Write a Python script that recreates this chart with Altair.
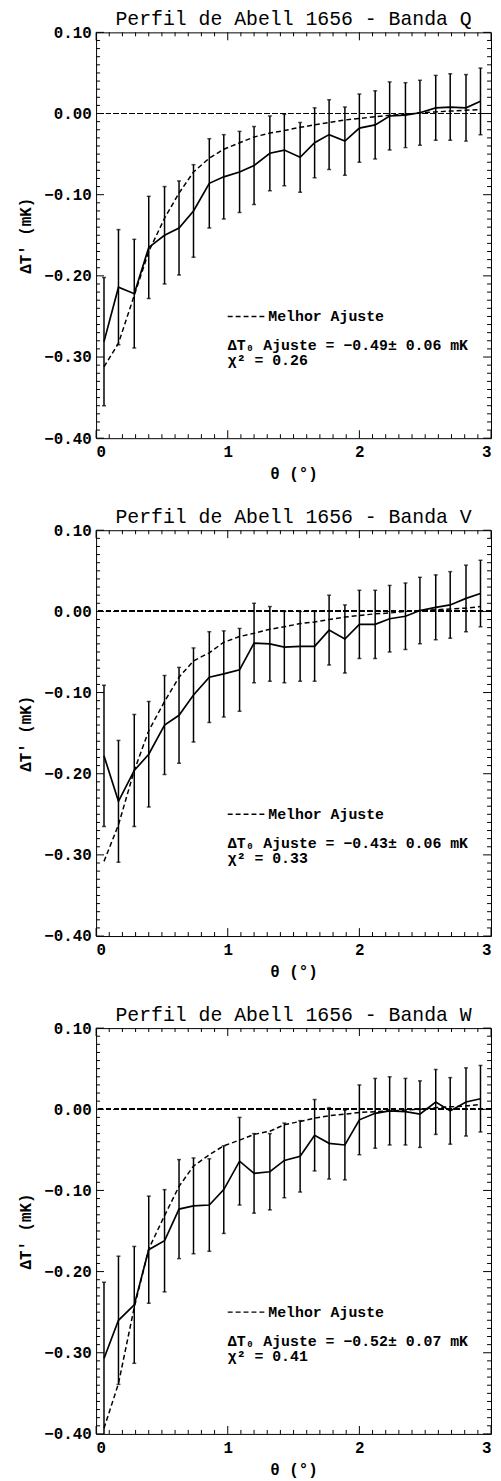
import altair as alt
import pandas as pd

# ---------------- data ----------------
theta = [0.06, 0.17, 0.29, 0.40, 0.52, 0.63, 0.74, 0.86, 0.97, 1.09, 1.20, 1.32, 1.43,
         1.55, 1.66, 1.77, 1.89, 2.00, 2.12, 2.23, 2.35, 2.46, 2.58, 2.69, 2.81, 2.92]

# Banda Q
dt_q = [-0.281, -0.214, -0.222, -0.165, -0.150, -0.141, -0.120, -0.086, -0.078, -0.072,
        -0.064, -0.049, -0.045, -0.054, -0.036, -0.026, -0.034, -0.018, -0.014, -0.003,
        -0.002, 0.001, 0.007, 0.008, 0.007, 0.015]
err_q = [0.079, 0.071, 0.067, 0.063, 0.060, 0.058, 0.057, 0.055, 0.052, 0.050, 0.048,
         0.046, 0.044, 0.043, 0.043, 0.043, 0.042, 0.042, 0.042, 0.042, 0.040, 0.040,
         0.040, 0.041, 0.041, 0.041]
fit_q = [-0.312, -0.283, -0.224, -0.170, -0.129, -0.098, -0.072, -0.055, -0.044, -0.036,
         -0.029, -0.024, -0.021, -0.017, -0.014, -0.011, -0.008, -0.006, -0.004, -0.002,
         -0.001, 0.001, 0.002, 0.003, 0.004, 0.005]

# Banda V
dt_v = [-0.178, -0.234, -0.196, -0.176, -0.140, -0.128, -0.103, -0.081, -0.077, -0.072,
        -0.039, -0.040, -0.044, -0.043, -0.043, -0.023, -0.034, -0.016, -0.016, -0.009,
        -0.006, 0.001, 0.005, 0.008, 0.016, 0.022]
err_v = [0.087, 0.075, 0.069, 0.065, 0.061, 0.059, 0.058, 0.056, 0.053, 0.051, 0.049,
         0.046, 0.044, 0.043, 0.043, 0.043, 0.042, 0.042, 0.042, 0.041, 0.041, 0.041,
         0.040, 0.041, 0.041, 0.041]
fit_v = [-0.308, -0.263, -0.196, -0.147, -0.111, -0.081, -0.061, -0.051, -0.038, -0.031,
         -0.027, -0.022, -0.019, -0.015, -0.013, -0.010, -0.007, -0.005, -0.003, -0.002,
         0.000, 0.001, 0.002, 0.003, 0.004, 0.006]

# Banda W
dt_w = [-0.307, -0.260, -0.241, -0.173, -0.162, -0.123, -0.119, -0.118, -0.099, -0.064,
        -0.079, -0.077, -0.063, -0.058, -0.032, -0.042, -0.044, -0.013, -0.005, -0.002,
        -0.003, -0.006, 0.009, -0.002, 0.009, 0.013]
err_w = [0.094, 0.079, 0.072, 0.066, 0.063, 0.061, 0.059, 0.057, 0.054, 0.054, 0.049,
         0.047, 0.046, 0.044, 0.044, 0.044, 0.043, 0.043, 0.043, 0.042, 0.041, 0.041,
         0.040, 0.041, 0.042, 0.041]
fit_w = [-0.393, -0.338, -0.244, -0.172, -0.131, -0.095, -0.070, -0.056, -0.045, -0.038,
         -0.031, -0.027, -0.019, -0.015, -0.011, -0.008, -0.006, -0.004, -0.003, -0.002,
         -0.001, 0.000, 0.002, 0.003, 0.004, 0.006]

titles = ["Perfil de Abell 1656 - Banda Q",
          "Perfil de Abell 1656 - Banda V",
          "Perfil de Abell 1656 - Banda W"]
fit_texts = ["ΔT₀ Ajuste = −0.49± 0.06 mK",
             "ΔT₀ Ajuste = −0.43± 0.06 mK",
             "ΔT₀ Ajuste = −0.52± 0.07 mK"]
chi_texts = ["χ² = 0.26", "χ² = 0.33", "χ² = 0.41"]
legend_label = ["Melhor Ajuste"]
x_title = "θ (°)"
y_title = "ΔT' (mK)"

x_major = [0, 1, 2, 3]
x_minor = [i / 10 for i in range(31) if i % 10 != 0]
y_major = [-0.4, -0.3, -0.2, -0.1, 0.0, 0.1]
y_minor = [round(-0.4 + i / 100, 2) for i in range(51) if i % 10 != 0]

# ---------------- styling ----------------
FONT = "Liberation Mono"
W, H = 399, 410
MAJ, MIN = 8, 4
INK = "black"

xs = alt.Scale(domain=[0, 3], nice=False, zero=False)
ys = alt.Scale(domain=[-0.4, 0.1], nice=False, zero=False)
XAX = alt.Axis(values=x_major, format="d", grid=False, ticks=False, domain=False,
               labelPadding=6, titlePadding=6)
YAX = alt.Axis(values=y_major, format=".2f", grid=False, ticks=False, domain=False,
               labelPadding=5, titlePadding=10)


def X(field):
    return alt.X(field, scale=xs, axis=XAX, title=x_title)


def Y(field):
    return alt.Y(field, scale=ys, axis=YAX, title=y_title)


def panel(title, dt, err, fit, fit_text, chi_text):
    df = pd.DataFrame({
        "theta": theta,
        "dt": dt,
        "lo": [a - b for a, b in zip(dt, err)],
        "hi": [a + b for a, b in zip(dt, err)],
        "fit": fit,
    })
    base = alt.Chart(df)

    main = base.mark_line(color=INK, strokeWidth=1.7).encode(x=X("theta:Q"), y=Y("dt:Q"))
    zero = base.mark_rule(color=INK, strokeWidth=1.2, strokeDash=[5, 3]).encode(
        y=alt.datum(0, scale=ys, axis=YAX, title=y_title))
    fitl = base.mark_line(color=INK, strokeWidth=1.5, strokeDash=[5, 3]).encode(
        x=X("theta:Q"), y=Y("fit:Q"))
    bars = base.mark_rule(color=INK, strokeWidth=1.5, clip=True).encode(
        x=X("theta:Q"), y=Y("lo:Q"), y2="hi:Q")
    cap_lo = base.mark_tick(color=INK, orient="horizontal", size=4, thickness=1.5,
                            clip=True).encode(x=X("theta:Q"), y=Y("lo:Q"))
    cap_hi = base.mark_tick(color=INK, orient="horizontal", size=4,
                            thickness=1.5).encode(x=X("theta:Q"), y=Y("hi:Q"))

    # inward ticks on all four sides
    xmaj = alt.Chart(pd.DataFrame({"v": x_major}))
    xmin = alt.Chart(pd.DataFrame({"v": x_minor}))
    ymaj = alt.Chart(pd.DataFrame({"v": y_major}))
    ymin = alt.Chart(pd.DataFrame({"v": y_minor}))
    tk = dict(color=INK, strokeWidth=1)
    ticks = []
    for src, ln in ((xmaj, MAJ), (xmin, MIN)):
        ticks.append(src.mark_rule(**tk).encode(
            x=X("v:Q"), y=alt.value(0), y2=alt.value(ln)))
        ticks.append(src.mark_rule(**tk).encode(
            x=X("v:Q"), y=alt.value(H), y2=alt.value(H - ln)))
    for src, ln in ((ymaj, MAJ), (ymin, MIN)):
        ticks.append(src.mark_rule(**tk).encode(
            y=Y("v:Q"), x=alt.value(0), x2=alt.value(ln)))
        ticks.append(src.mark_rule(**tk).encode(
            y=Y("v:Q"), x=alt.value(W), x2=alt.value(W - ln)))

    one = alt.Chart(pd.DataFrame({"label": legend_label, "fit": [fit_text],
                                  "chi": [chi_text]}))
    leg_dash = one.mark_rule(color=INK, strokeWidth=1.4, strokeDash=[5, 3]).encode(
        x=alt.value(133), x2=alt.value(170), y=alt.value(287))
    txt = dict(font=FONT, fontSize=15, fontWeight="bold", color=INK, align="left",
               baseline="middle")
    leg_txt = one.mark_text(**txt).encode(
        x=alt.value(174), y=alt.value(287), text="label:N")
    fit_txt = one.mark_text(**txt).encode(
        x=alt.value(133), y=alt.value(316), text="fit:N")
    chi_txt = one.mark_text(**txt).encode(
        x=alt.value(133), y=alt.value(331), text="chi:N")

    return alt.layer(main, zero, fitl, bars, cap_lo, cap_hi, *ticks,
                     leg_dash, leg_txt, fit_txt, chi_txt).properties(
        width=W, height=H,
        title=alt.TitleParams(title, font=FONT, fontSize=20, fontWeight="normal",
                              anchor="middle", frame="group", offset=-5, color=INK),
    )


p1 = panel(titles[0], dt_q, err_q, fit_q, fit_texts[0], chi_texts[0])
p2 = panel(titles[1], dt_v, err_v, fit_v, fit_texts[1], chi_texts[1])
p3 = panel(titles[2], dt_w, err_w, fit_w, fit_texts[2], chi_texts[2])

chart = alt.vconcat(p1, p2, p3, spacing=24).properties(
    padding={"left": 9, "top": -7, "right": 0, "bottom": 0},
    background="white",
).configure_view(stroke=INK, strokeWidth=1).configure_axis(
    labelFont=FONT, labelFontSize=16, labelColor=INK, labelFontWeight="bold",
    titleFont=FONT, titleFontSize=16, titleColor=INK, titleFontWeight="bold",
)

chart.save("out.html", embed_options={"renderer": "svg", "actions": False})
